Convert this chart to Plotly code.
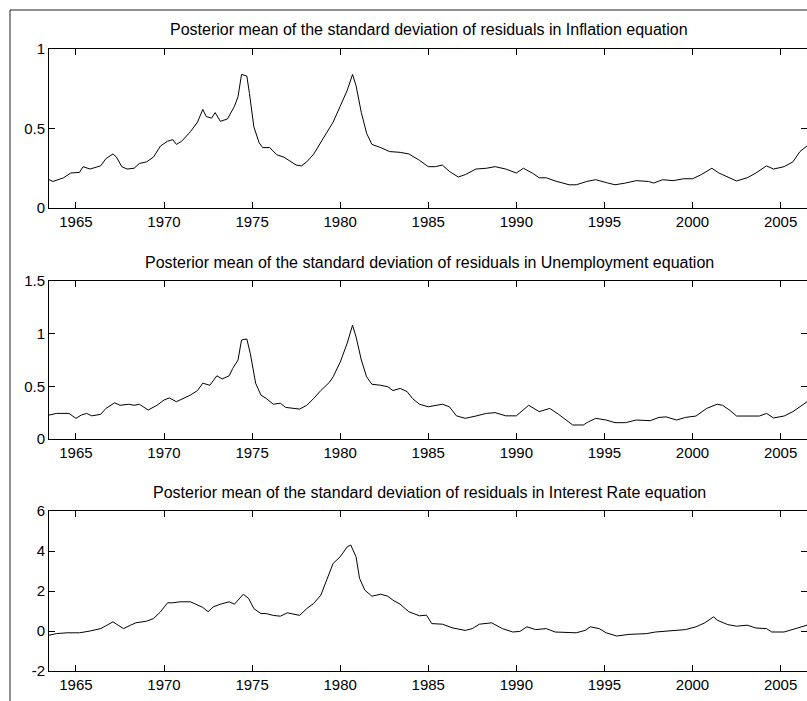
import plotly.graph_objects as go

# ---- data (year, value) ----
years_infl = [1963.47, 1963.7, 1964.3, 1964.7, 1965.2, 1965.4, 1965.8, 1966.4, 1966.7, 1967.1, 1967.3, 1967.6,
              1967.9, 1968.3, 1968.6, 1969.0, 1969.4, 1969.8, 1970.2, 1970.5, 1970.7, 1971.0, 1971.5, 1971.9,
              1972.2, 1972.4, 1972.7, 1972.9, 1973.2, 1973.6, 1974.0, 1974.2, 1974.4, 1974.7, 1974.85, 1975.1,
              1975.4, 1975.6, 1976.0, 1976.4, 1976.8, 1977.2, 1977.5, 1977.8, 1978.1, 1978.5, 1978.9, 1979.2,
              1979.6, 1980.0, 1980.4, 1980.7, 1980.9, 1981.2, 1981.5, 1981.8, 1982.3, 1982.8, 1983.4, 1983.9,
              1984.5, 1985.0, 1985.4, 1985.8, 1986.2, 1986.7, 1987.1, 1987.7, 1988.3, 1988.8, 1989.4, 1990.0,
              1990.4, 1990.9, 1991.3, 1991.7, 1992.2, 1993.0, 1993.4, 1994.0, 1994.5, 1995.1, 1995.6, 1996.2,
              1996.8, 1997.5, 1997.8, 1998.3, 1998.9, 1999.5, 2000.0, 2000.5, 2001.1, 2001.5, 2002.1, 2002.5,
              2003.1, 2003.6, 2004.2, 2004.6, 2005.2, 2005.7, 2006.1, 2006.5]
sd_infl = [0.178, 0.167, 0.19, 0.22, 0.224, 0.26, 0.245, 0.265, 0.31, 0.34, 0.32, 0.26,
           0.245, 0.25, 0.28, 0.29, 0.32, 0.39, 0.42, 0.43, 0.40, 0.42, 0.48, 0.54,
           0.62, 0.575, 0.565, 0.60, 0.545, 0.56, 0.64, 0.70, 0.84, 0.83, 0.72, 0.51,
           0.41, 0.38, 0.38, 0.335, 0.32, 0.29, 0.27, 0.265, 0.29, 0.34, 0.41, 0.47,
           0.54, 0.64, 0.74, 0.84, 0.77, 0.60, 0.47, 0.40, 0.38, 0.355, 0.35, 0.34,
           0.30, 0.26, 0.26, 0.27, 0.23, 0.195, 0.21, 0.245, 0.25, 0.26, 0.245, 0.22,
           0.25, 0.22, 0.19, 0.19, 0.17, 0.146, 0.146, 0.167, 0.178, 0.16, 0.146, 0.157,
           0.172, 0.167, 0.157, 0.178, 0.172, 0.184, 0.184, 0.21, 0.25, 0.22, 0.19, 0.17,
           0.19, 0.22, 0.265, 0.245, 0.26, 0.29, 0.355, 0.39]

years_unemp = [1963.47, 1963.9, 1964.6, 1965.0, 1965.3, 1965.6, 1965.9, 1966.4, 1966.7, 1967.2, 1967.5, 1968.0,
               1968.3, 1968.6, 1969.1, 1969.6, 1970.0, 1970.3, 1970.7, 1971.1, 1971.5, 1971.9, 1972.2, 1972.6,
               1973.0, 1973.3, 1973.7, 1973.9, 1974.2, 1974.4, 1974.7, 1974.9, 1975.2, 1975.5, 1975.8, 1976.2,
               1976.6, 1976.9, 1977.3, 1977.7, 1978.1, 1978.5, 1978.9, 1979.4, 1979.6, 1980.0, 1980.4, 1980.7,
               1980.9, 1981.2, 1981.5, 1981.8, 1982.3, 1982.7, 1983.0, 1983.4, 1983.8, 1984.1, 1984.5, 1985.0,
               1985.8, 1986.2, 1986.6, 1987.1, 1987.7, 1988.3, 1988.8, 1989.4, 1990.0, 1990.4, 1990.7, 1991.3,
               1991.9, 1992.4, 1992.8, 1993.2, 1993.8, 1994.1, 1994.5, 1995.1, 1995.6, 1996.2, 1996.8, 1997.6,
               1998.1, 1998.5, 1999.1, 1999.6, 2000.2, 2000.8, 2001.4, 2001.7, 2002.1, 2002.5, 2003.1, 2003.8,
               2004.2, 2004.6, 2005.2, 2005.7, 2006.1, 2006.5]
sd_unemp = [0.227, 0.243, 0.243, 0.196, 0.227, 0.243, 0.22, 0.234, 0.29, 0.344, 0.32, 0.33,
            0.32, 0.33, 0.275, 0.32, 0.37, 0.39, 0.354, 0.385, 0.417, 0.46, 0.53, 0.51,
            0.60, 0.57, 0.60, 0.67, 0.75, 0.94, 0.95, 0.81, 0.53, 0.417, 0.385, 0.33,
            0.34, 0.30, 0.29, 0.284, 0.32, 0.385, 0.46, 0.54, 0.59, 0.73, 0.91, 1.08,
            0.97, 0.75, 0.59, 0.52, 0.51, 0.496, 0.46, 0.48, 0.45, 0.385, 0.33, 0.306,
            0.33, 0.306, 0.22, 0.196, 0.218, 0.243, 0.25, 0.22, 0.22, 0.275, 0.32, 0.26,
            0.29, 0.234, 0.18, 0.133, 0.133, 0.164, 0.196, 0.18, 0.155, 0.155, 0.18, 0.174,
            0.205, 0.21, 0.18, 0.205, 0.218, 0.29, 0.33, 0.32, 0.275, 0.218, 0.218, 0.218,
            0.243, 0.20, 0.218, 0.26, 0.306, 0.354]

years_rate = [1963.47, 1963.9, 1964.5, 1965.2, 1965.8, 1966.4, 1966.7, 1967.1, 1967.4, 1967.7, 1968.1, 1968.4,
              1969.0, 1969.4, 1969.8, 1970.2, 1970.5, 1970.9, 1971.5, 1971.9, 1972.2, 1972.5, 1972.8, 1973.2,
              1973.7, 1974.0, 1974.5, 1974.8, 1975.1, 1975.5, 1975.8, 1976.2, 1976.6, 1977.0, 1977.3, 1977.7,
              1978.1, 1978.5, 1978.9, 1979.2, 1979.6, 1980.0, 1980.4, 1980.6, 1980.9, 1981.1, 1981.4, 1981.8,
              1982.3, 1982.7, 1983.0, 1983.4, 1983.9, 1984.5, 1984.9, 1985.2, 1985.8, 1986.4, 1987.1, 1987.5,
              1987.9, 1988.6, 1989.2, 1989.8, 1990.2, 1990.6, 1991.1, 1991.7, 1992.2, 1993.4, 1993.9, 1994.2,
              1994.7, 1995.1, 1995.7, 1996.4, 1997.4, 1997.9, 1998.5, 1999.1, 1999.6, 2000.2, 2000.7, 2001.2,
              2001.4, 2002.0, 2002.5, 2003.1, 2003.6, 2004.2, 2004.5, 2005.2, 2005.7, 2006.5]
sd_rate = [-0.21, -0.13, -0.09, -0.09, 0.0, 0.12, 0.26, 0.46, 0.29, 0.12, 0.29, 0.41,
           0.49, 0.62, 0.96, 1.41, 1.41, 1.46, 1.46, 1.29, 1.18, 0.96, 1.21, 1.34,
           1.46, 1.34, 1.84, 1.63, 1.12, 0.87, 0.87, 0.78, 0.74, 0.91, 0.87, 0.78,
           1.12, 1.38, 1.79, 2.46, 3.38, 3.71, 4.21, 4.30, 3.71, 2.63, 2.04, 1.74,
           1.84, 1.74, 1.54, 1.34, 0.96, 0.76, 0.79, 0.37, 0.34, 0.15, 0.03, 0.12,
           0.34, 0.41, 0.12, -0.05, -0.02, 0.21, 0.07, 0.12, -0.05, -0.09, 0.03, 0.21,
           0.12, -0.09, -0.25, -0.17, -0.13, -0.05, 0.0, 0.03, 0.07, 0.21, 0.41, 0.71,
           0.54, 0.32, 0.24, 0.29, 0.15, 0.12, -0.05, -0.05, 0.07, 0.29]

x_ticks = [1965, 1970, 1975, 1980, 1985, 1990, 1995, 2000, 2005]
x_labels = [str(v) for v in x_ticks]

titles = ["Posterior mean of the standard deviation of residuals in Inflation equation",
          "Posterior mean of the standard deviation of residuals in Unemployment equation",
          "Posterior mean of the standard deviation of residuals in Interest Rate equation"]
y_ranges = [[0, 1], [0, 1.5], [-2, 6]]
y_ticks = [[0, 0.5, 1], [0, 0.5, 1, 1.5], [-2, 0, 2, 4, 6]]
y_labels = [["0", "0.5", "1"], ["0", "0.5", "1", "1.5"], ["-2", "0", "2", "4", "6"]]

series = [(years_infl, sd_infl), (years_unemp, sd_unemp), (years_rate, sd_rate)]

# ---- layout geometry (pixels) ----
W, H = 807, 701
x_left = 49
panels_px = [(49, 208), (281, 439), (511, 671)]  # (top, bottom)

FONT = "Liberation Sans, Arial, sans-serif"

fig = go.Figure()
layout = dict(
    width=W, height=H,
    margin=dict(l=0, r=0, t=0, b=0),
    paper_bgcolor="white", plot_bgcolor="white",
    showlegend=False,
    font=dict(family=FONT, size=15, color="black"),
)
annotations = []
for i, ((xs, ys), (top, bot)) in enumerate(zip(series, panels_px)):
    n = "" if i == 0 else str(i + 1)
    fig.add_trace(go.Scatter(x=xs, y=ys, mode="lines",
                             line=dict(color="black", width=1),
                             xaxis="x" + n, yaxis="y" + n,
                             hoverinfo="skip"))
    layout["xaxis" + n] = dict(
        domain=[x_left / W, 1.0], anchor="y" + n,
        range=[1963.47, 2006.5], tickvals=x_ticks, ticktext=x_labels,
        ticks="inside", ticklen=6, tickcolor="black", tickwidth=1,
        showline=True, linecolor="black", linewidth=1, mirror="ticks",
        showgrid=False, zeroline=False, automargin=False,
        tickfont=dict(family=FONT, size=15, color="black"),
    )
    layout["yaxis" + n] = dict(
        domain=[1 - bot / H, 1 - top / H], anchor="x" + n,
        range=y_ranges[i], tickvals=y_ticks[i], ticktext=y_labels[i],
        ticks="inside", ticklen=6, tickcolor="black", tickwidth=1,
        showline=True, linecolor="black", linewidth=1, mirror="ticks",
        showgrid=False, zeroline=False, automargin=False,
        tickfont=dict(family=FONT, size=15, color="black"),
    )
    annotations.append(dict(
        text=titles[i], xref="paper", yref="paper",
        x=(x_left + 810) / 2 / W, y=1 - (top - 19) / H,
        xanchor="center", yanchor="middle", showarrow=False,
        font=dict(family=FONT, size=16, color="black"),
    ))

layout["annotations"] = annotations
layout["shapes"] = [
    dict(type="line", xref="paper", yref="paper", x0=10 / W, x1=1.0, y0=1 - 10 / H, y1=1 - 10 / H,
         line=dict(color="#222", width=1)),
    dict(type="line", xref="paper", yref="paper", x0=10 / W, x1=10 / W, y0=0, y1=1 - 10 / H,
         line=dict(color="#222", width=1)),
]
fig.update_layout(**layout)
fig.write_html("out.html", config={"displayModeBar": False},
               post_script="document.body.style.margin='0';document.body.style.overflow='hidden';")
